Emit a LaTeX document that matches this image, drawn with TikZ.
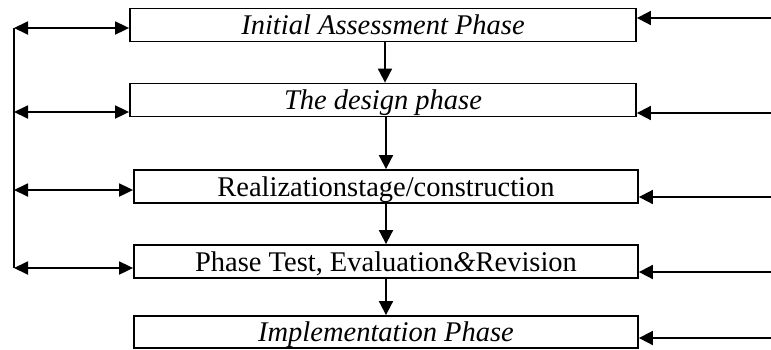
\documentclass[tikz,border=0pt]{standalone}
\usepackage{fontspec}
\setmainfont{Liberation Serif}
\usetikzlibrary{arrows.meta}

\begin{document}
\begin{tikzpicture}[x=1pt,y=-1pt]
\tikzstyle{every node}+=[inner sep=0pt]
\tikzstyle{phase}=[draw=black, line width=1.8pt, minimum height=33pt, text height=19pt, text depth=0pt, font=\fontsize{28.5}{32}\selectfont]
\tikzstyle{link}=[black, line width=1.8pt, -{Triangle[length=14pt,width=14pt]}]
\tikzstyle{twoway}=[black, line width=1.8pt, {Triangle[length=14pt,width=13pt]}-{Triangle[length=14pt,width=13pt]}]
\useasboundingbox (0,0) rectangle (771,349);
\node [phase, minimum width=506pt] (b1) at (383,25) {\textit{Initial Assessment Phase}};
\node [phase, minimum width=506pt] (b2) at (383,100) {\textit{The design phase}};
\node [phase, minimum width=504pt] (b3) at (386,186.5) {Realizationstage/construction};
\node [phase, minimum width=504pt] (b4) at (386,261.5) {Phase Test, Evaluation\textit{\&}Revision};
\node [phase, minimum width=504pt, minimum height=32pt] (b5) at (386,332) {\textit{Implementation Phase}};
\coordinate (l1) at (14,28);
\coordinate (l2) at (14,112);
\coordinate (l3) at (14,190);
\coordinate (l4) at (14,268);
\coordinate (r1) at (771,18);
\coordinate (r2) at (771,113);
\coordinate (r3) at (771,197);
\coordinate (r4) at (771,272);
\coordinate (r5) at (771,338);
\draw [black, line width=1.8pt] (l1) -- (l4);
\draw [twoway] (l1) -- (l1 -| b1.west);
\draw [twoway] (l2) -- (l2 -| b2.west);
\draw [twoway] (l3) -- (l3 -| b3.west);
\draw [twoway] (l4) -- (l4 -| b4.west);
\draw [link] (r1) -- (r1 -| b1.east);
\draw [link] (r2) -- (r2 -| b2.east);
\draw [link] (r3) -- (r3 -| b3.east);
\draw [link] (r4) -- (r4 -| b4.east);
\draw [link] (r5) -- (r5 -| b5.east);
\draw [link] ([xshift=2pt]b1.south) -- ([xshift=2pt]b2.north);
\draw [link] ([xshift=2pt]b2.south) -- (b2.south -| b3.north) -- (b3.north);
\draw [link] (b3.south) -- (b4.north);
\draw [link] (b4.south) -- (b5.north);
\end{tikzpicture}
\end{document}
